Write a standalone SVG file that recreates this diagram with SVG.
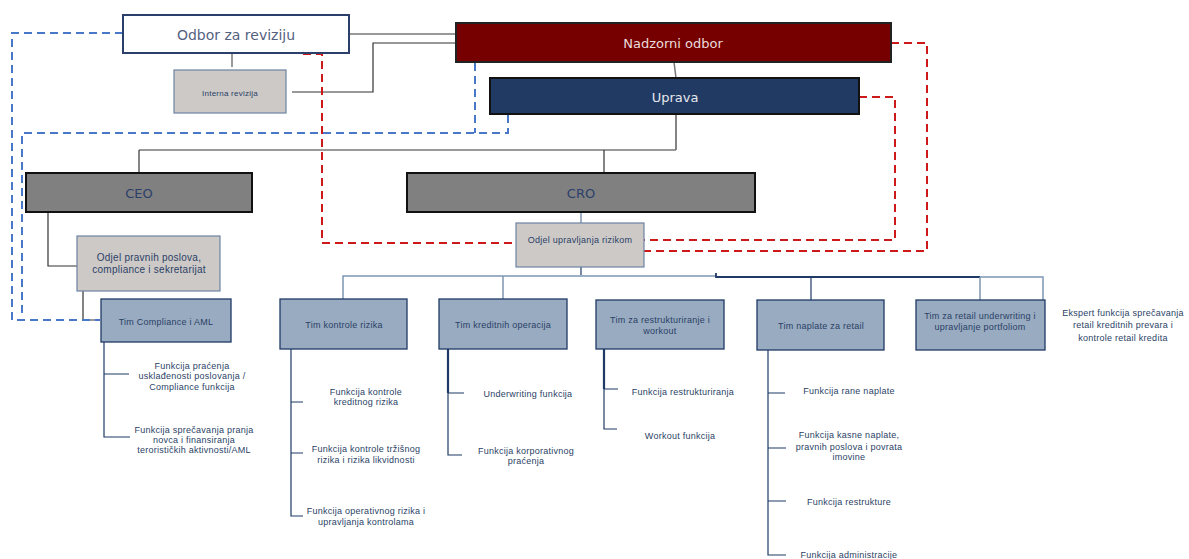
<svg xmlns="http://www.w3.org/2000/svg" width="1189" height="559" viewBox="0 0 1189 559">
<style>
.t{font-family:"DejaVu Sans",Verdana,sans-serif;font-size:13px;text-anchor:middle}
.s{font-family:"Liberation Sans",Arial,sans-serif;font-size:9px;fill:#2b3f66;text-anchor:middle;letter-spacing:0.25px}
.gr{fill:#cdc9c6;stroke:#6d84a3;stroke-width:1.2}
.tm{fill:#98abc0;stroke:#1f3a66;stroke-width:1.3}
.ln{fill:none;stroke:#1f3a66;stroke-width:1.2}
.lt{fill:none;stroke:#7f96b2;stroke-width:1.5}
.gy{fill:none;stroke:#777;stroke-width:1.5}
.bk{fill:none;stroke:#333;stroke-width:1.2}
.bd{fill:none;stroke:#4a78c8;stroke-width:2;stroke-dasharray:8 5}
.rd{fill:none;stroke:#cc1a1a;stroke-width:2;stroke-dasharray:8 5}
</style>
<rect width="1189" height="559" fill="#fff"/>
<g id="connectors">
<path class="gy" d="M232 53V67"/>
<path class="gy" d="M349 34H456"/>
<path class="bk" d="M292 92H373V43H456"/>
<path class="gy" d="M674 62L676 78"/>
<path class="bk" d="M676 114V150"/>
<path class="gy" d="M139 150H676"/>
<path class="bk" d="M139 150V173"/>
<path class="bk" d="M604 150V173"/>
<path class="bk" d="M48 212V266H77"/>
<path class="bk" d="M83 291V320H100"/>
<path class="lt" d="M581 212V223"/>
<path class="ln" d="M581 267V275"/>
<path class="lt" d="M343 299V276H716"/>
<path class="lt" d="M503 276V299"/>
<path class="ln" d="M716 273V277H980" style="stroke-width:1.8"/>
<path class="lt" d="M980 277H1043V300"/>
<path class="ln" d="M811 277V300"/>
<path class="lt" d="M980 277V300"/>
<path class="ln" d="M104 342V437H130M104 374H129"/>
<path class="ln" d="M291 349V516H303M291 402H303M291 453H303"/>
<path class="ln" d="M448 349V455H462M448 393H464"/>
<path class="ln" d="M448 349V393" style="stroke-width:2.2"/>
<path class="ln" d="M604 349V429H617M604 389H618"/>
<path class="ln" d="M604 349V389" style="stroke-width:2.2"/>
<path class="ln" d="M768 350V555H786M768 393H785M768 448H786M768 501H786"/>
<path class="bd" d="M123 33H12V320H100"/>
<path class="bd" d="M475 63V133"/>
<path class="bd" d="M508 115V133H22V313"/>
<path class="rd" d="M303 54H322V243H516"/>
<path class="rd" d="M891 43H927V251H644"/>
<path class="rd" d="M859 97H895V240H644"/>
</g>
<g id="odbor-za-reviziju">
<rect x="123" y="15" width="226" height="38" fill="#fff" stroke="#2a3f6a" stroke-width="2"/>
<text class="t" x="236" y="40" fill="#55627f" style="font-size:14px">Odbor za reviziju</text>
</g>
<g id="interna-revizija">
<rect class="gr" x="174" y="70" width="112" height="43"/>
<text class="s" x="230" y="96" style="font-size:8px">Interna revizija</text>
</g>
<g id="nadzorni-odbor">
<rect x="456" y="23" width="435" height="39" fill="#760000" stroke="#222" stroke-width="2"/>
<text class="t" x="673" y="48" fill="#ecdcdc">Nadzorni odbor</text>
</g>
<g id="uprava">
<rect x="490" y="78" width="369" height="36" fill="#213a63" stroke="#111" stroke-width="2"/>
<text class="t" x="675" y="102" fill="#e6e8ee">Uprava</text>
</g>
<g id="ceo">
<rect x="26" y="173" width="226" height="39" fill="#808080" stroke="#111" stroke-width="2"/>
<text class="t" x="139" y="198" fill="#2a3f6a">CEO</text>
</g>
<g id="cro">
<rect x="407" y="173" width="348" height="39" fill="#808080" stroke="#111" stroke-width="2"/>
<text class="t" x="581" y="198" fill="#2a3f6a">CRO</text>
</g>
<g id="odjel-pravnih">
<rect class="gr" x="77" y="236" width="143" height="55"/>
<text class="s" x="149" y="261" style="font-size:10px">Odjel pravnih poslova,</text>
<text class="s" x="149" y="273" style="font-size:10px">compliance i sekretarijat</text>
</g>
<g id="odjel-upravljanja-rizikom">
<rect class="gr" x="516" y="223" width="128" height="44"/>
<text class="s" x="580" y="243">Odjel upravljanja rizikom</text>
</g>
<g id="tim-compliance">
<rect class="tm" x="101" y="299" width="130" height="43"/>
<text class="s" x="166" y="325">Tim Compliance i AML</text>
</g>
<g id="tim-kontrole-rizika">
<rect class="tm" x="280" y="299" width="127" height="50"/>
<text class="s" x="344" y="328">Tim kontrole rizika</text>
</g>
<g id="tim-kreditnih-operacija">
<rect class="tm" x="439" y="299" width="128" height="50"/>
<text class="s" x="503" y="328">Tim kreditnih operacija</text>
</g>
<g id="tim-restrukturiranje">
<rect class="tm" x="596" y="300" width="128" height="49"/>
<text class="s" x="660" y="323">Tim za restrukturiranje i</text>
<text class="s" x="660" y="334">workout</text>
</g>
<g id="tim-naplate">
<rect class="tm" x="757" y="300" width="127" height="50"/>
<text class="s" x="821" y="329">Tim naplate za retail</text>
</g>
<g id="tim-retail-underwriting">
<rect class="tm" x="916" y="300" width="129" height="50"/>
<text class="s" x="980" y="319">Tim za retail underwriting i</text>
<text class="s" x="980" y="330">upravljanje portfoliom</text>
</g>
<g id="ekspert">
<text class="s" x="1123" y="316">Ekspert funkcija sprečavanja</text>
<text class="s" x="1123" y="328">retail kreditnih prevara i</text>
<text class="s" x="1123" y="341">kontrole retail kredita</text>
</g>
<g id="f-compliance">
<text class="s" x="192" y="369">Funkcija praćenja</text>
<text class="s" x="192" y="379">usklađenosti poslovanja /</text>
<text class="s" x="192" y="390">Compliance funkcija</text>
</g>
<g id="f-aml">
<text class="s" x="194" y="433">Funkcija sprečavanja pranja</text>
<text class="s" x="194" y="443">novca i finansiranja</text>
<text class="s" x="194" y="453">terorističkih aktivnosti/AML</text>
</g>
<g id="f-kreditni-rizik">
<text class="s" x="366" y="395">Funkcija kontrole</text>
<text class="s" x="366" y="405">kreditnog rizika</text>
</g>
<g id="f-trzisni-rizik">
<text class="s" x="366" y="452">Funkcija kontrole tržišnog</text>
<text class="s" x="366" y="463">rizika i rizika likvidnosti</text>
</g>
<g id="f-operativni-rizik">
<text class="s" x="366" y="514">Funkcija operativnog rizika i</text>
<text class="s" x="366" y="525">upravljanja kontrolama</text>
</g>
<g id="f-underwriting">
<text class="s" x="528" y="397">Underwriting funkcija</text>
</g>
<g id="f-korporativno">
<text class="s" x="526" y="454">Funkcija korporativnog</text>
<text class="s" x="526" y="464">praćenja</text>
</g>
<g id="f-restrukturiranja">
<text class="s" x="683" y="395">Funkcija restrukturiranja</text>
</g>
<g id="f-workout">
<text class="s" x="680" y="439">Workout funkcija</text>
</g>
<g id="f-rane-naplate">
<text class="s" x="849" y="394">Funkcija rane naplate</text>
</g>
<g id="f-kasne-naplate">
<text class="s" x="849" y="438">Funkcija kasne naplate,</text>
<text class="s" x="849" y="450">pravnih poslova i povrata</text>
<text class="s" x="849" y="460">imovine</text>
</g>
<g id="f-restrukture">
<text class="s" x="849" y="505">Funkcija restrukture</text>
</g>
<g id="f-administracije">
<text class="s" x="849" y="558">Funkcija administracije</text>
</g>
</svg>
